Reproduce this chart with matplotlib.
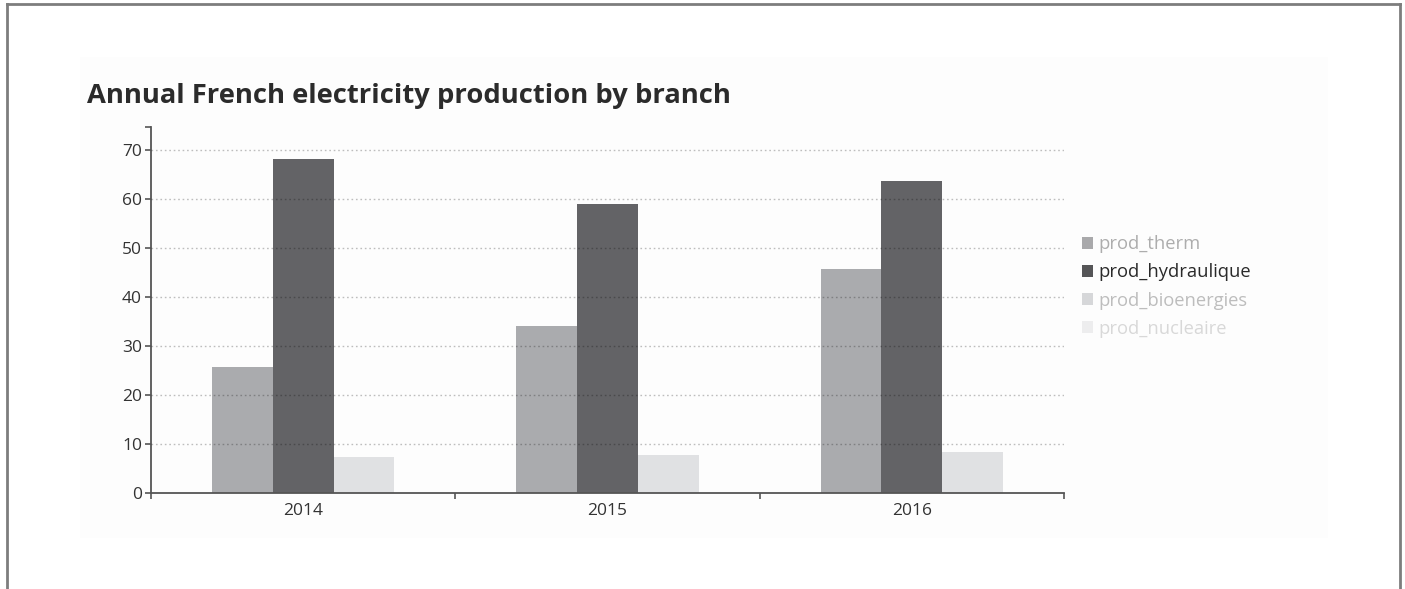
import numpy as np
import matplotlib
matplotlib.use("Agg")
import matplotlib.pyplot as plt
from matplotlib.patches import Patch, Rectangle
from matplotlib.lines import Line2D

plt.rcParams['font.family'] = ['Open Sans', 'DejaVu Sans']

# data
years = ["2014", "2015", "2016"]
series = ["prod_therm", "prod_hydraulique", "prod_bioenergies", "prod_nucleaire"]
prod_therm = [25.7, 34.2, 45.8]
prod_hydraulique = [68.2, 59.0, 63.7]
prod_bioenergies = [7.4, 7.8, 8.4]
prod_nucleaire = [0, 0, 0]
y_ticks = [0, 10, 20, 30, 40, 50, 60, 70]

values = [prod_therm, prod_hydraulique, prod_bioenergies, prod_nucleaire]
bar_colors = ["#aaabae", "#636366", "#e0e1e3", "#efeff0"]
legend_marker = ["#a9a9ab", "#555557", "#d6d7d9", "#ededee"]
legend_text = ["#adadad", "#2a2a2a", "#bdbdbd", "#d8d8d8"]

fig = plt.figure(figsize=(14.05, 5.89), dpi=100)

# faint chart background + outer frame
fig.patches.append(Rectangle((80 / 1405, 1 - 538 / 589), (1328 - 80) / 1405, (538 - 57) / 589,
                             transform=fig.transFigure, facecolor="#fdfdfd", edgecolor="none", zorder=-5))
frame_kw = dict(transform=fig.transFigure, color="#7d7d7d", lw=2)
fig.add_artist(Line2D([7 / 1405, 1400 / 1405], [1 - 4 / 589, 1 - 4 / 589], **frame_kw))
fig.add_artist(Line2D([7 / 1405, 7 / 1405], [0, 1 - 4 / 589], **frame_kw))
fig.add_artist(Line2D([1400 / 1405, 1400 / 1405], [0, 1 - 4 / 589], **frame_kw))

ax = fig.add_axes([151 / 1405, 1 - 493 / 589, (1064 - 151) / 1405, (493 - 127) / 589])
ax.set_facecolor("none")
ax.set_zorder(2)

x = np.arange(len(years))
w = 0.2
for k, (vals, c) in enumerate(zip(values, bar_colors)):
    ax.bar(x + 0.2 + k * w, vals, width=w, align="edge", color=c, zorder=2)

ytop = 74.8
ax.set_xlim(0, len(years))
ax.set_ylim(0, ytop)

# dotted grid lines over the bars
for v in y_ticks[1:]:
    ax.axhline(v, color="black", alpha=0.25, lw=1, ls=(0, (1.2, 2.0)), zorder=3)

for s in ["top", "right"]:
    ax.spines[s].set_visible(False)
for s in ["left", "bottom"]:
    ax.spines[s].set_color("#555555")
    ax.spines[s].set_linewidth(1.3)

ax.set_yticks(y_ticks + [ytop])
ax.set_yticklabels([str(v) for v in y_ticks] + [""])
ax.set_xticks(range(len(years) + 1))
ax.set_xticklabels([])
ax.set_xticks(x + 0.5, minor=True)
ax.set_xticklabels(years, minor=True)
ax.tick_params(axis="y", length=4.5, width=1.2, color="#555555", labelsize=12.5,
               labelcolor="#333333", pad=2)
ax.tick_params(axis="x", which="major", length=4.5, width=1.2, color="#555555")
ax.tick_params(axis="x", which="minor", length=0, labelsize=12.5, labelcolor="#333333", pad=7)

fig.text(87 / 1405, 1 - 103 / 589, "Annual French electricity production by branch",
         fontsize=19.7, fontweight="bold", color="#2b2b2b", va="baseline", ha="left")

handles = [Patch(facecolor=c, edgecolor="none") for c in legend_marker]
leg = fig.legend(handles, series, loc="upper left", bbox_to_anchor=(1075 / 1405, 1 - 228 / 589),
                 frameon=False, fontsize=13.2, handlelength=0.6, handleheight=0.6,
                 handletextpad=0.3, labelspacing=0.55, borderaxespad=0)
for t, c in zip(leg.get_texts(), legend_text):
    t.set_color(c)

fig.savefig("out.png", dpi=100)
